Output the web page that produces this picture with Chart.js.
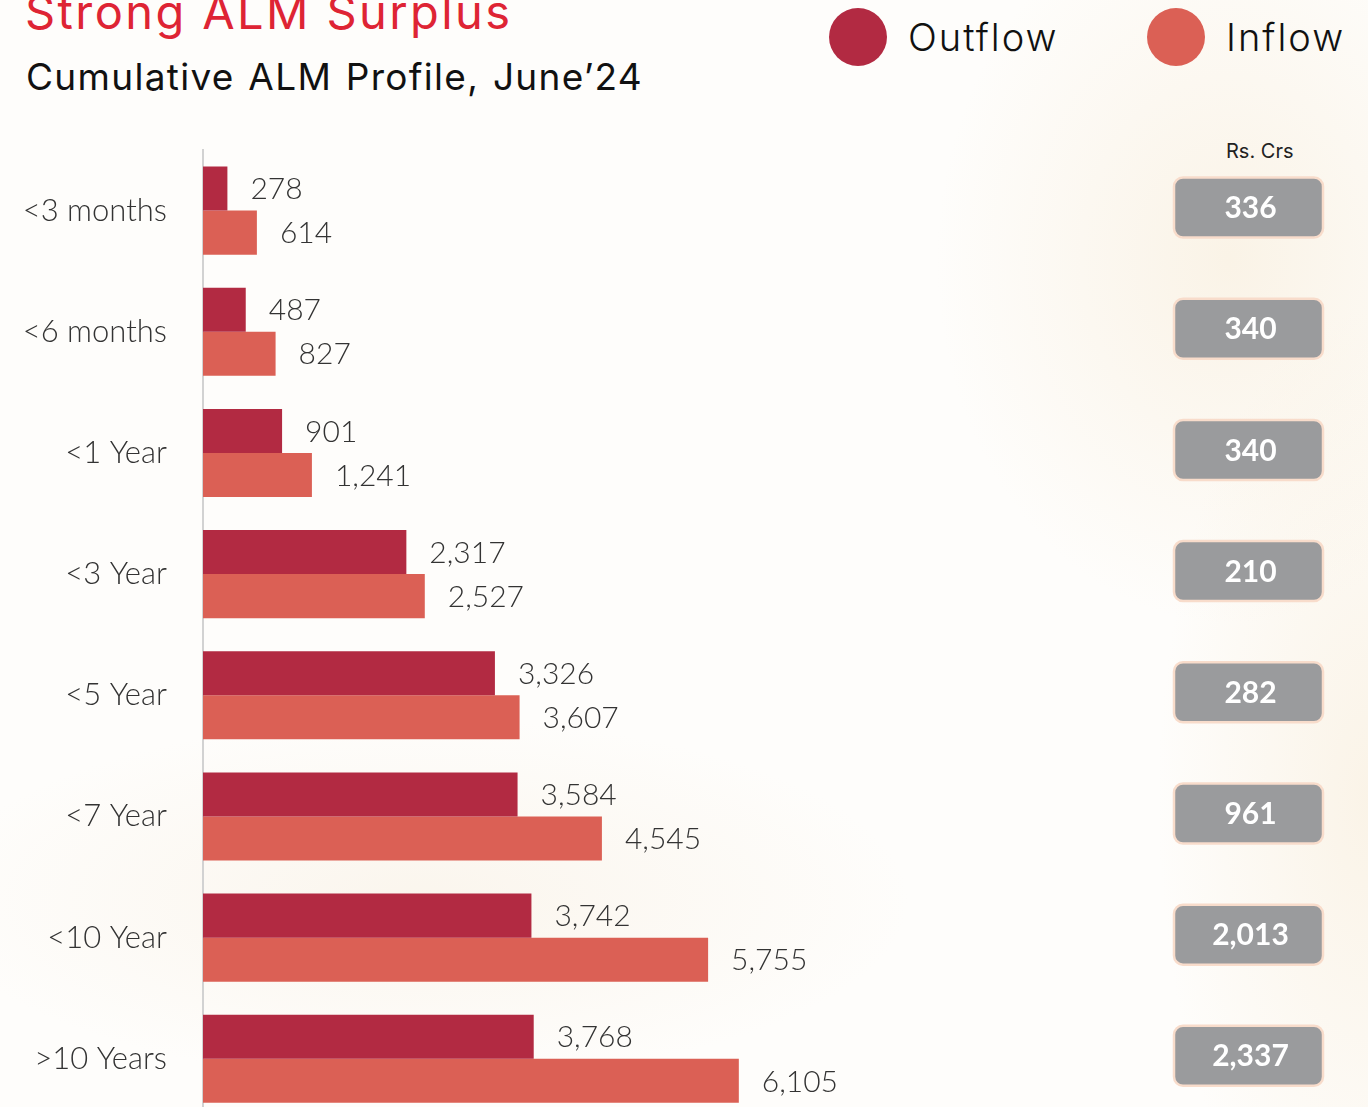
<!DOCTYPE html>
<html>
<head>
<meta charset="utf-8">
<script src="https://cdn.jsdelivr.net/npm/chart.js@4.4.1/dist/chart.umd.min.js"></script>
<style>
  html, body { margin:0; padding:0; width:1368px; height:1107px; overflow:hidden; }
  body {
    position:relative; font-family:Inter, "Noto Sans", sans-serif;
    background:
      radial-gradient(ellipse 420px 520px at 1230px 260px, rgba(244,228,200,0.4), rgba(255,255,255,0) 70%),
      radial-gradient(ellipse 700px 260px at 420px 900px, rgba(243,228,205,0.3), rgba(255,255,255,0) 70%),
      radial-gradient(ellipse 300px 700px at 1368px 800px, rgba(246,232,208,0.45), rgba(255,255,255,0) 70%),
      #fefdfb;
  }
  .title { position:absolute; left:25px; top:-17px; font-size:47px; color:#de2434; letter-spacing:2.4px; }
  .sub { position:absolute; left:26px; top:54px; font-size:37px; color:#111; letter-spacing:1.3px; word-spacing:2px; }
  .leg { position:absolute; top:8px; display:flex; align-items:center; font-size:38px; font-weight:300; color:#111; letter-spacing:2px; }
  .leg i { display:inline-block; width:58px; height:58px; border-radius:50%; margin-right:21px; }
  .rs { position:absolute; left:1226px; top:139px; font-size:20px; color:#222; }
  #wrap { position:absolute; left:0; top:0; width:1368px; height:1166px; }
</style>
</head>
<body>
<div class="title">Strong ALM Surplus</div>
<div class="sub">Cumulative ALM Profile, June’24</div>
<div class="leg" style="left:829px"><i style="background:#b22a42"></i>Outflow</div>
<div class="leg" style="left:1147px"><i style="background:#db6055"></i>Inflow</div>
<div class="rs">Rs. Crs</div>
<div id="wrap"><canvas id="alm"></canvas></div>
<script>
const BUCKETS = ['<3 months','<6 months','<1 Year','<3 Year','<5 Year','<7 Year','<10 Year','>10 Years'];
const OUTFLOW = [278, 487, 901, 2317, 3326, 3584, 3742, 3768];
const INFLOW = [614, 827, 1241, 2527, 3607, 4545, 5755, 6105];
const SURPLUS = [336, 340, 340, 210, 282, 961, 2013, 2337];

const C = { out:'#b22a42', inn:'#db6055', text:'#333', axis:'#d2d2d2', box:'#9a9b9d', boxEdge:'#f8dccb' };
const fmt = v => v.toLocaleString('en-US');

// value printed just past the end of every bar
const barValues = {
  id: 'barValues',
  afterDatasetsDraw(chart) {
    const ctx = chart.ctx;
    ctx.save();
    ctx.font = '300 30px Lato, sans-serif';
    ctx.fillStyle = C.text;
    ctx.textBaseline = 'middle';
    chart.data.datasets.forEach((ds, i) => {
      chart.getDatasetMeta(i).data.forEach((bar, j) => {
        ctx.fillText(fmt(ds.data[j]), bar.x + 23, bar.y + 1);
      });
    });
    ctx.restore();
  }
};

// grey surplus badges on the right
const surplusBoxes = {
  id: 'surplusBoxes',
  afterDraw(chart) {
    const ctx = chart.ctx;
    const y = chart.scales.y;
    ctx.save();
    SURPLUS.forEach((v, i) => {
      const cy = y.getPixelForValue(i) - 3;
      const x0 = 1174, w = 149, h = 60;
      ctx.beginPath();
      ctx.roundRect(x0, cy - h / 2, w, h, 9);
      ctx.fillStyle = C.box;
      ctx.fill();
      ctx.lineWidth = 2.5;
      ctx.strokeStyle = C.boxEdge;
      ctx.stroke();
      ctx.fillStyle = '#fff';
      ctx.font = 'bold 30px Lato, sans-serif';
      ctx.textAlign = 'center';
      ctx.textBaseline = 'middle';
      ctx.fillText(fmt(v), x0 + w / 2 + 2, cy + 1);
    });
    ctx.restore();
  }
};

new Chart(document.getElementById('alm'), {
  type: 'bar',
  data: {
    labels: BUCKETS,
    datasets: [
      { label:'Outflow', data:OUTFLOW, backgroundColor:C.out },
      { label:'Inflow', data:INFLOW, backgroundColor:C.inn }
    ]
  },
  options: {
    indexAxis: 'y',
    responsive: true,
    maintainAspectRatio: false,
    animation: false,
    categoryPercentage: 0.727,
    barPercentage: 1.0,
    layout: { padding: { top:150, right:24, bottom:0, left:0 } },
    plugins: { legend:{ display:false }, tooltip:{ enabled:false } },
    scales: {
      x: { display:false, min:0, max:13000 },
      y: {
        grid: { display:false },
        border: { display:true, color:C.axis, width:2 },
        ticks: { color:C.text, padding:28, font:{ family:'Lato, sans-serif', size:31, weight:'300' } },
        afterFit(scale) { scale.width = 203; }
      }
    }
  },
  plugins: [barValues, surplusBoxes]
});
</script>
</body>
</html>
